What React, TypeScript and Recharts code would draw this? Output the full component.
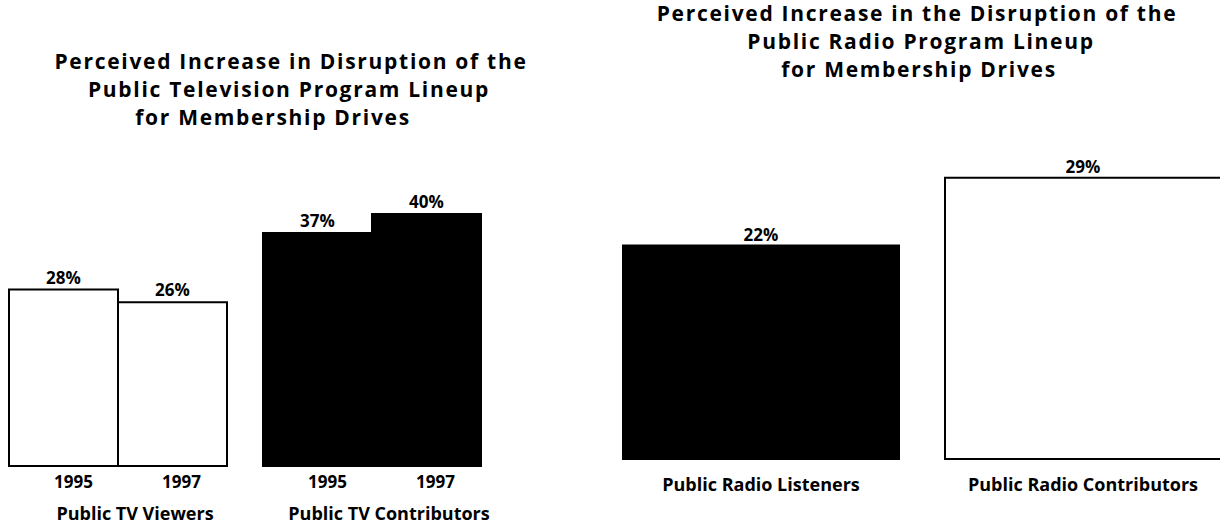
import React from "react";
import { BarChart, Bar, XAxis, YAxis, Cell, LabelList } from "recharts";

// left panel: public television
const tvGroups = ["Public TV Viewers", "Public TV Contributors"];
const tvYears = ["1995", "1997"];
const tv1995 = [28, 37];
const tv1997 = [26, 40];

// right panel: public radio
const radioGroups = ["Public Radio Listeners", "Public Radio Contributors"];
const radioValues = [22, 29];

const tvTitle = [
  "Perceived Increase in Disruption of the",
  "Public Television Program Lineup",
  "for Membership Drives",
];
const radioTitle = [
  "Perceived Increase in the Disruption of the",
  "Public Radio Program Lineup",
  "for Membership Drives",
];

const tvFills = ["#ffffff", "#000000"];
const radioFills = ["#000000", "#ffffff"];

const tvData = tvGroups.map((g, i) => ({ group: g, y1995: tv1995[i], y1997: tv1997[i] }));
const radioData = radioGroups.map((g, i) => ({ group: g, value: radioValues[i] }));

const TV_BAND = 254;
const TV_GAP = 18;
const TV_BAR = (TV_BAND - 2 * TV_GAP) / 2;

const pct = (v: any) => `${v}%`;

const TvTick = (props: any) => {
  const { x, y, payload } = props;
  return (
    <g fontWeight={700} fill="#000">
      <text x={x - TV_BAR / 2 + 10} y={y + 22} textAnchor="middle" fontSize={17}>
        {tvYears[0]}
      </text>
      <text x={x + TV_BAR / 2 + 9} y={y + 22} textAnchor="middle" fontSize={17}>
        {tvYears[1]}
      </text>
      <text x={x + 17} y={y + 54} textAnchor="middle" fontSize={18}>
        {payload.value}
      </text>
    </g>
  );
};

const TitleLine = ({ text, cx, baseline }: { text: string; cx: number; baseline: number }) => (
  <div
    style={{
      position: "absolute",
      left: cx - 300,
      width: 600,
      top: baseline - 22,
      textAlign: "center",
      fontSize: 21,
      letterSpacing: "1.7px",
      lineHeight: "28px",
      fontWeight: 700,
      whiteSpace: "nowrap",
    }}
  >
    {text}
  </div>
);

const labelStyle = { fill: "#000", fontSize: 17, fontWeight: 700 };

export default function App() {
  return (
    <div
      style={{
        position: "absolute",
        left: 0,
        top: 0,
        width: 1220,
        height: 525,
        overflow: "hidden",
        background: "#fff",
        fontFamily: '"Open Sans", sans-serif',
        color: "#000",
      }}
    >
      <TitleLine text={tvTitle[0]} cx={291} baseline={69} />
      <TitleLine text={tvTitle[1]} cx={289} baseline={97} />
      <TitleLine text={tvTitle[2]} cx={273} baseline={125} />
      <TitleLine text={radioTitle[0]} cx={917} baseline={21} />
      <TitleLine text={radioTitle[1]} cx={921} baseline={49} />
      <TitleLine text={radioTitle[2]} cx={919} baseline={77} />

      <div style={{ position: "absolute", left: -9, top: 0 }}>
        <BarChart
          width={TV_BAND * 2}
          height={525}
          data={tvData}
          margin={{ top: 151, right: 0, left: 0, bottom: 0 }}
          barGap={0}
          barCategoryGap={TV_GAP}
        >
          <XAxis
            dataKey="group"
            height={59}
            axisLine={false}
            tickLine={false}
            tickSize={0}
            tickMargin={0}
            interval={0}
            tick={<TvTick />}
          />
          <YAxis hide domain={[0, 50]} />
          <Bar dataKey="y1995" stroke="#000" strokeWidth={2} isAnimationActive={false}>
            {tvData.map((d, i) => (
              <Cell key={d.group} fill={tvFills[i]} />
            ))}
            <LabelList dataKey="y1995" position="top" offset={6} formatter={pct} {...labelStyle} />
          </Bar>
          <Bar dataKey="y1997" stroke="#000" strokeWidth={2} isAnimationActive={false}>
            {tvData.map((d, i) => (
              <Cell key={d.group} fill={tvFills[i]} />
            ))}
            <LabelList dataKey="y1997" position="top" offset={6} formatter={pct} {...labelStyle} />
          </Bar>
        </BarChart>
      </div>

      <div style={{ position: "absolute", left: 600, top: 0 }}>
        <BarChart
          width={644}
          height={525}
          data={radioData}
          margin={{ top: 71, right: 0, left: 0, bottom: 0 }}
          barCategoryGap={23}
        >
          <XAxis
            dataKey="group"
            height={66}
            axisLine={false}
            tickLine={false}
            tickSize={0}
            tickMargin={19}
            interval={0}
            tick={{ fill: "#000", fontSize: 18, fontWeight: 700 }}
          />
          <YAxis hide domain={[0, 40]} />
          <Bar dataKey="value" stroke="#000" strokeWidth={2} isAnimationActive={false}>
            {radioData.map((d, i) => (
              <Cell key={d.group} fill={radioFills[i]} />
            ))}
            <LabelList dataKey="value" position="top" offset={5} formatter={pct} {...labelStyle} />
          </Bar>
        </BarChart>
      </div>
    </div>
  );
}
